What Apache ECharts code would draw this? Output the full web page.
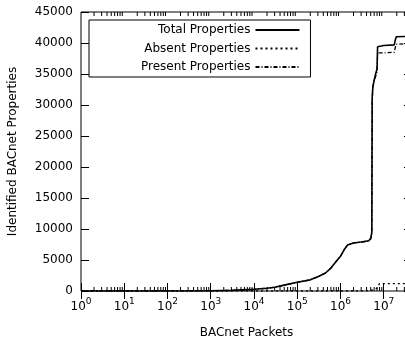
<!DOCTYPE html>
<html>
<head>
<meta charset="utf-8">
<script src="https://cdn.jsdelivr.net/npm/echarts@6/dist/echarts.min.js"></script>
<style>
html,body{margin:0;padding:0;background:#fff;}
#chart{width:405px;height:344px;}
</style>
</head>
<body>
<div id="chart"></div>
<script>
// ---- data ----
const packets = [1, 10, 100, 1000, 3000, 1e4, 2e4, 3e4, 5e4, 1e5, 2e5, 3e5, 4.5e5, 6e5, 8e5, 1e6, 1.2e6, 1.45e6, 1.6e6, 2e6, 3e6, 4.5e6, 5e6, 5.3e6, 5.4e6, 5.6e6, 6e6, 6.6e6, 7e6, 7.2e6, 8e6, 1e7, 1.75e7, 1.85e7, 1.95e7, 4.5e7];
const totalProps = [0, 0, 5, 30, 100, 270, 450, 600, 950, 1400, 1800, 2300, 2900, 3700, 4800, 5600, 6600, 7400, 7600, 7750, 7900, 8100, 8500, 9500, 31000, 33000, 34000, 35200, 35800, 39400, 39500, 39600, 39700, 40500, 41000, 41100];
const absentProps = [0, 0, 0, 0, 0, 0, 0, 0, 0, 0, 0, 0, 0, 0, 0, 0, 0, 0, 0, 0, 0, 50, 100, 150, 150, 200, 250, 400, 450, 500, 1200, 1200, 1200, 1200, 1200, 1200];
const presentProps = [0, 0, 5, 30, 100, 270, 450, 600, 950, 1400, 1800, 2300, 2900, 3700, 4800, 5600, 6600, 7400, 7600, 7750, 7900, 8050, 8400, 9350, 30850, 32800, 33750, 34800, 35350, 38400, 38400, 38400, 38500, 39300, 39800, 39900];
const seriesNames = ['Total Properties', 'Absent Properties', 'Present Properties'];
const xName = 'BACnet Packets';
const yName = 'Identified BACnet Properties';
const xMin = 1, xMax = 4.5e7;
const yMin = 0, yMax = 45000, yStep = 5000;

// minor log ticks (2..9 x 10^n)
const minorTicks = [];
for (let n = 0; n < 8; n++) {
  for (let k = 2; k <= 9; k++) {
    const v = k * Math.pow(10, n);
    if (v < xMax) minorTicks.push([v, 0]);
  }
}

const pairs = (ys) => packets.map((p, i) => [p, ys[i]]);
const FONT = 'DejaVu Sans';
const chart = echarts.init(document.getElementById('chart'), null, {renderer: 'canvas'});

const xCommon = {
  type: 'log', logBase: 10, min: xMin, max: xMax, interval: 1,
  axisLine: {show: false},
  axisTick: {show: true, inside: true, length: 8, lineStyle: {color: '#000', width: 1}},
  splitLine: {show: false}
};

chart.setOption({
  animation: false,
  textStyle: {fontFamily: FONT},
  grid: {left: 81, top: 12, width: 331, bottom: 53, outerBoundsMode: 'none', containLabel: false,
         show: true, borderColor: '#000', borderWidth: 1, backgroundColor: 'transparent'},
  legend: {
    data: seriesNames,
    orient: 'vertical',
    align: 'right',
    left: 89, top: 20,
    itemWidth: 44, itemHeight: 14, itemGap: 6.5,
    padding: [4, 10, 4, 52],
    borderColor: '#000', borderWidth: 1,
    itemStyle: {color: 'transparent', borderColor: 'transparent', borderWidth: 0, opacity: 0},
    textStyle: {fontFamily: FONT, fontSize: 12, color: '#000'}
  },
  xAxis: [
    Object.assign({}, xCommon, {
      position: 'bottom',
      name: xName, nameLocation: 'middle', nameGap: 36,
      nameTextStyle: {fontFamily: FONT, fontSize: 12, color: '#000'},
      axisLabel: {
        margin: 6, showMaxLabel: false,
        formatter: function (v) {
          const e = Math.log10(v);
          if (Math.abs(e - Math.round(e)) > 1e-6) return '';
          return '{b|10}{s|' + Math.round(e) + '}';
        },
        rich: {
          b: {fontFamily: FONT, fontSize: 12, color: '#000', lineHeight: 16, verticalAlign: 'bottom'},
          s: {fontFamily: FONT, fontSize: 9, color: '#000', lineHeight: 11, verticalAlign: 'top'}
        }
      }
    }),
    Object.assign({}, xCommon, {position: 'top', axisLabel: {show: false}})
  ],
  yAxis: [
    {
      type: 'value', min: yMin, max: yMax, interval: yStep, position: 'left',
      name: yName, nameLocation: 'middle', nameGap: 62,
      nameTextStyle: {fontFamily: FONT, fontSize: 12, color: '#000'},
      axisLine: {show: false},
      axisTick: {show: true, inside: true, length: 8, lineStyle: {color: '#000'}},
      axisLabel: {margin: 8, fontFamily: FONT, fontSize: 12, color: '#000', formatter: (v) => String(v)},
      splitLine: {show: false}
    },
    {
      type: 'value', min: yMin, max: yMax, interval: yStep, position: 'right',
      axisLine: {show: false},
      axisTick: {show: true, inside: true, length: 8, lineStyle: {color: '#000'}},
      axisLabel: {show: false},
      splitLine: {show: false}
    }
  ],
  series: [
    {
      type: 'custom', name: 'minor', silent: true, xAxisIndex: 0, yAxisIndex: 0,
      data: minorTicks, clip: true, z: 1,
      renderItem: function (params, api) {
        const v = api.value(0);
        const b = api.coord([v, yMin]);
        const t = api.coord([v, yMax]);
        const st = {stroke: '#000', lineWidth: 1};
        return {type: 'group', children: [
          {type: 'line', shape: {x1: b[0], y1: b[1], x2: b[0], y2: b[1] - 4}, style: st},
          {type: 'line', shape: {x1: t[0], y1: t[1], x2: t[0], y2: t[1] + 4}, style: st}
        ]};
      }
    },
    {
      name: seriesNames[1], type: 'line', data: pairs(absentProps), showSymbol: false, symbol: 'none',
      lineStyle: {color: '#000', width: 1.3, type: [2, 3]}, itemStyle: {color: '#000'}, z: 3
    },
    {
      name: seriesNames[2], type: 'line', data: pairs(presentProps), showSymbol: false, symbol: 'none',
      lineStyle: {color: '#000', width: 1.3, type: [4, 2, 1, 2]}, itemStyle: {color: '#000'}, z: 4
    },
    {
      name: seriesNames[0], type: 'line', data: pairs(totalProps), showSymbol: false, symbol: 'none',
      lineStyle: {color: '#000', width: 1.6}, itemStyle: {color: '#000'}, z: 5
    }
  ]
});
</script>
</body>
</html>
